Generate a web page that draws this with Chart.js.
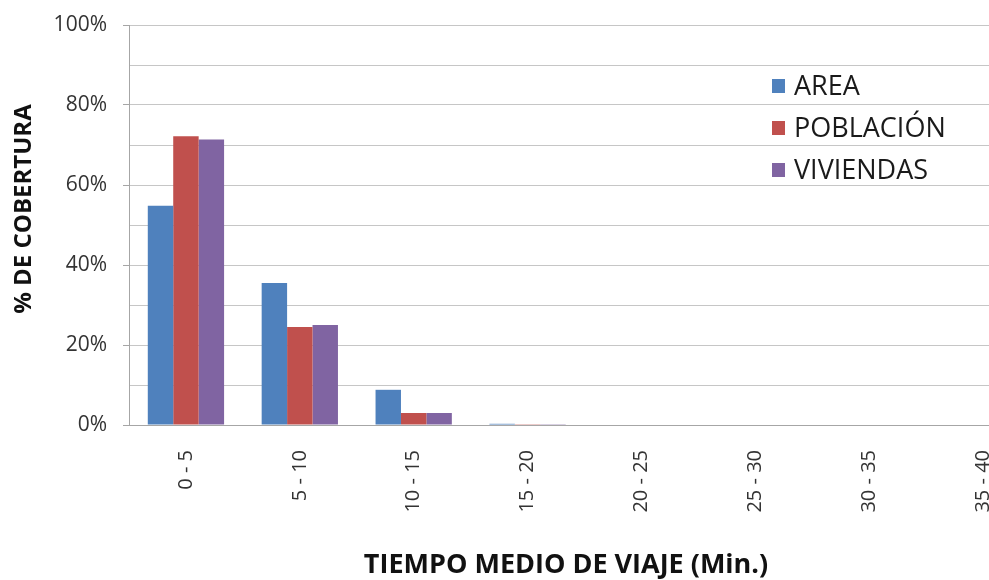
<!DOCTYPE html>
<html>
<head>
<meta charset="utf-8">
<script src="https://cdn.jsdelivr.net/npm/chart.js@4/dist/chart.umd.min.js"></script>
<style>
html,body{margin:0;padding:0;background:#fff;overflow:hidden;}
#wrap{width:1040px;height:580px;}
</style>
</head>
<body>
<div id="wrap"><canvas id="c" width="1040" height="580"></canvas></div>
<script>
const categories = ["0 - 5","5 - 10","10 - 15","15 - 20","20 - 25","25 - 30","30 - 35","35 - 40"];
const area = [54.8, 35.5, 8.8, 0.3, 0, 0, 0, 0];
const poblacion = [72.2, 24.5, 3.0, 0.05, 0, 0, 0, 0];
const viviendas = [71.4, 25.0, 3.0, 0.05, 0, 0, 0, 0];
const seriesNames = ["AREA", "POBLACIÓN", "VIVIENDAS"];
const seriesColors = ["#4F81BD", "#C0504D", "#8064A2"];
const yTickValues = [0, 20, 40, 60, 80, 100];
const xTitle = "TIEMPO MEDIO DE VIAJE (Min.)";
const yTitle = "% DE COBERTURA";

const VISIBLE_W = 989;

const legendPlugin = {
  id: 'insideLegend',
  afterDraw(chart) {
    const ctx = chart.ctx;
    const ca = chart.chartArea;
    const x0 = ca.left + 643;
    const y0 = ca.top + 61;
    const gap = 42;
    ctx.save();
    ctx.font = '27px "Open Sans"';
    ctx.textBaseline = 'middle';
    ctx.textAlign = 'left';
    chart.data.datasets.forEach((ds, i) => {
      const y = y0 + i * gap;
      ctx.fillStyle = ds.backgroundColor;
      ctx.fillRect(x0, y - 7, 13, 14);
      ctx.fillStyle = '#1a1a1a';
      ctx.fillText(ds.label, x0 + 22, y + 1);
    });
    ctx.restore();
  }
};

const titlesPlugin = {
  id: 'axisTitles',
  afterDraw(chart) {
    const ctx = chart.ctx;
    const ca = chart.chartArea;
    ctx.save();
    ctx.fillStyle = '#111';
    ctx.textAlign = 'center';
    ctx.textBaseline = 'middle';
    ctx.font = 'bold 27px "Open Sans"';
    ctx.fillText(xTitle, (ca.left + VISIBLE_W) / 2 + 7, ca.bottom + 140);
    ctx.font = 'bold 24px "Open Sans"';
    ctx.translate(24, ca.top + 184);
    ctx.rotate(-Math.PI / 2);
    ctx.fillText(yTitle, 0, 0);
    ctx.restore();
  }
};

new Chart(document.getElementById('c'), {
  type: 'bar',
  data: {
    labels: categories,
    datasets: [
      { label: seriesNames[0], data: area, backgroundColor: seriesColors[0] },
      { label: seriesNames[1], data: poblacion, backgroundColor: seriesColors[1] },
      { label: seriesNames[2], data: viviendas, backgroundColor: seriesColors[2] }
    ]
  },
  options: {
    responsive: false,
    animation: false,
    devicePixelRatio: 1,
    layout: { padding: { top: 25, right: 0, left: 0, bottom: 0 } },
    datasets: { bar: { categoryPercentage: 0.67, barPercentage: 1.0, borderWidth: 0 } },
    plugins: {
      legend: { display: false },
      tooltip: { enabled: false }
    },
    scales: {
      x: {
        grid: { display: false },
        border: { display: true, color: '#a6a6a6', width: 1 },
        ticks: {
          minRotation: 90, maxRotation: 90, autoSkip: false,
          padding: 17,
          color: '#333',
          font: { family: '"Open Sans"', size: 20 }
        },
        afterFit(scale) { scale.height = 155; scale.paddingLeft = 0; scale.paddingRight = 0; }
      },
      y: {
        min: 0, max: 100,
        grid: {
          color: '#c6c6c6',
          lineWidth: 1,
          tickLength: 6,
          tickColor: (c) => (c.tick && yTickValues.includes(c.tick.value)) ? '#a6a6a6' : 'rgba(0,0,0,0)'
        },
        border: { display: true, color: '#a6a6a6', width: 1 },
        ticks: {
          stepSize: 10,
          padding: 16,
          color: '#333',
          font: { family: '"Open Sans"', size: 21 },
          callback: (v) => yTickValues.includes(v) ? v + '%' : ''
        },
        afterFit(scale) { scale.width = 129; scale.paddingTop = 0; scale.paddingBottom = 0; }
      }
    }
  },
  plugins: [legendPlugin, titlesPlugin]
});
</script>
</body>
</html>
